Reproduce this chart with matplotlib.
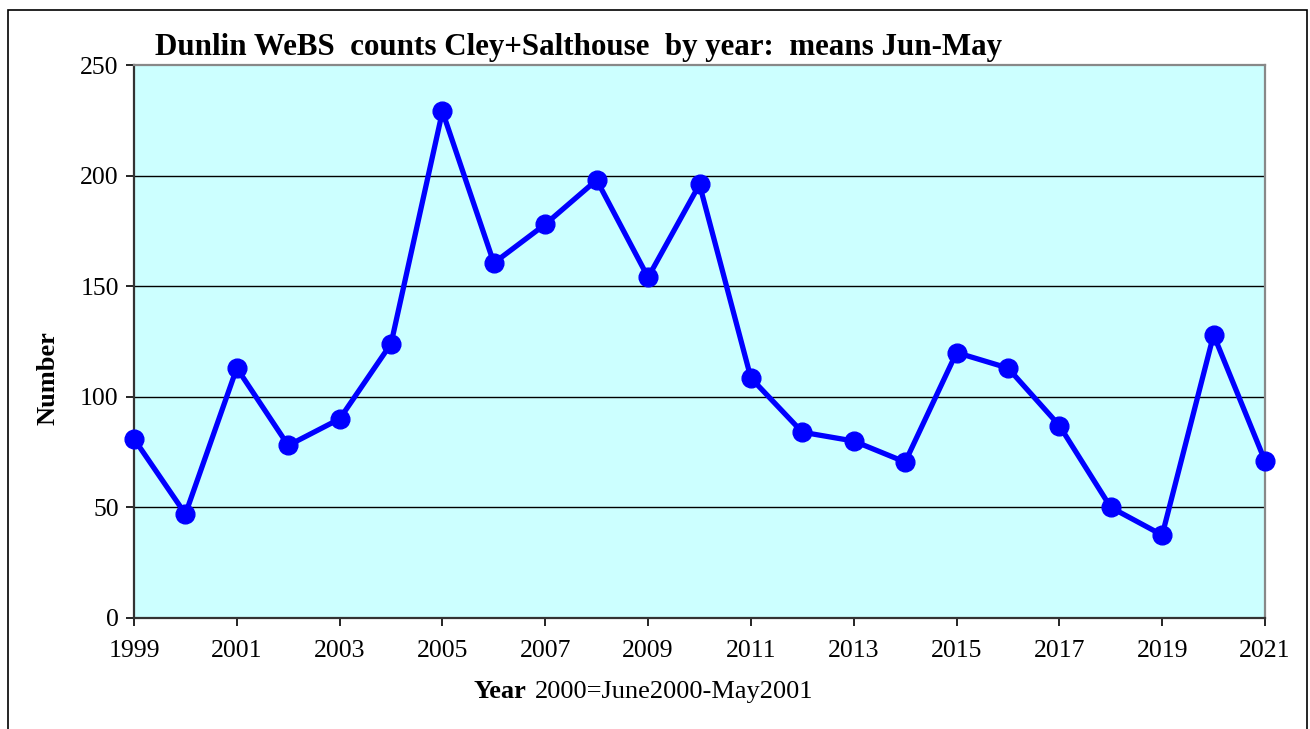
import matplotlib as mpl
mpl.use('Agg')
import matplotlib.pyplot as plt
from matplotlib.patches import Rectangle

years = [1999, 2000, 2001, 2002, 2003, 2004, 2005, 2006, 2007, 2008, 2009, 2010,
         2011, 2012, 2013, 2014, 2015, 2016, 2017, 2018, 2019, 2020, 2021]
counts = [81, 47, 113, 78, 90, 124, 229, 160.5, 178, 198, 154, 196,
          108.5, 84, 80, 70.5, 120, 113, 87, 50, 37.5, 128, 71]
yticks = [0, 50, 100, 150, 200, 250]
xticks = list(range(1999, 2022, 2))

plt.rcParams['font.family'] = ['Liberation Serif', 'DejaVu Serif']

W, H = 1310, 729
fig = plt.figure(figsize=(W / 100, H / 100), dpi=100)
ax = fig.add_axes([134 / W, 1 - 618 / H, (1265 - 134) / W, (618 - 65) / H])
ax.set_facecolor('#ccffff')

# outer chart border
fig.patches.append(Rectangle((8 / W, -0.05), (1307 - 8) / W, 1.05 - 10 / H,
                             transform=fig.transFigure, fill=False,
                             edgecolor='black', linewidth=1.2))

ax.plot(years, counts, color='#0000ff', linewidth=3.8, marker='o',
        markersize=13.5, markerfacecolor='#0000ff', markeredgecolor='#0000ff',
        clip_on=False, zorder=3)

ax.set_xlim(1999, 2021)
ax.set_ylim(0, 250)
ax.set_xticks(xticks)
ax.set_yticks(yticks)
ax.tick_params(direction='out', length=6, width=1.2, labelsize=18.5)
ax.tick_params(axis='x', pad=10)
ax.tick_params(axis='y', pad=5)
for y in yticks[1:-1]:
    ax.axhline(y, color='black', linewidth=1, zorder=1)

for s in ['left', 'bottom']:
    ax.spines[s].set_color('#333333')
    ax.spines[s].set_linewidth(1.6)
for s in ['right', 'top']:
    ax.spines[s].set_color('#888888')
    ax.spines[s].set_linewidth(1.6)

fig.text(155 / W, 1 - 47 / H, 'Dunlin WeBS  counts Cley+Salthouse  by year:  means Jun-May',
         fontsize=22.3, fontweight='bold', ha='left', va='center')
fig.text(48 / W, 1 - 378 / H, 'Number', fontsize=19, fontweight='bold',
         rotation=90, ha='center', va='center')
fig.text(473 / W, 1 - 692 / H, 'Year', fontsize=19, fontweight='bold',
         ha='left', va='center')
fig.text(535 / W, 1 - 692 / H, '2000=June2000-May2001', fontsize=19,
         ha='left', va='center')

plt.savefig('out.png', dpi=100)
plt.close()
